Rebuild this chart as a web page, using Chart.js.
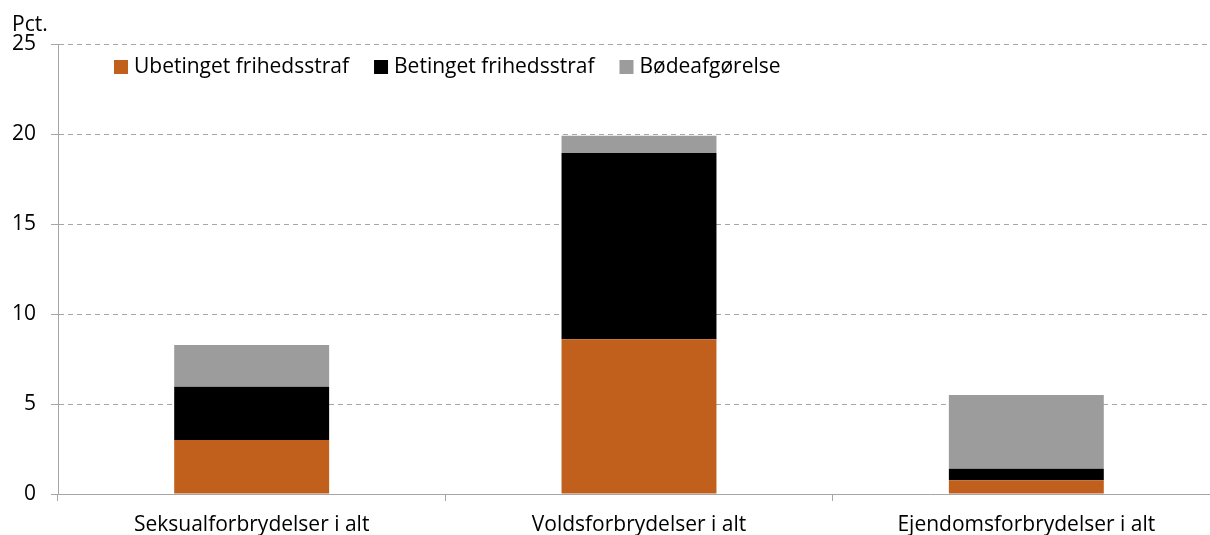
<!DOCTYPE html>
<html>
<head>
<meta charset="utf-8">
<script src="https://cdn.jsdelivr.net/npm/chart.js@4.4.1/dist/chart.umd.min.js"></script>
<style>
  html, body { margin:0; padding:0; background:#fff; overflow:hidden; }
  #wrap { width:1222px; height:535px; }
</style>
</head>
<body>
<div id="wrap"><canvas id="chart" width="1222" height="535"></canvas></div>
<script>
const categories = ["Seksualforbrydelser i alt", "Voldsforbrydelser i alt", "Ejendomsforbrydelser i alt"];
const ubetinget = [3.0, 8.6, 0.77];
const betinget = [2.96, 10.35, 0.63];
const boede = [2.32, 0.95, 4.1];
const seriesNames = ["Ubetinget frihedsstraf", "Betinget frihedsstraf", "Bødeafgørelse"];
const colors = ["#C0601C", "#000000", "#9C9C9C"];
const yTicks = [0, 5, 10, 15, 20, 25];

const FONT = "'Open Sans', Lato, sans-serif";
const FS = 21;
const axisGray = "#A6A6A6";

// legend sits inside the plot, plus the "Pct." label top left
const overlay = {
  id: "overlay",
  afterDraw(chart) {
    const ctx = chart.ctx;
    ctx.save();
    ctx.font = FS + "px " + FONT;
    ctx.fillStyle = "#000";
    ctx.textBaseline = "middle";
    ctx.textAlign = "left";
    ctx.fillText("Pct.", 12, 25);

    let x = 114;
    const y = 67;
    chart.data.datasets.forEach(ds => {
      ctx.fillStyle = ds.backgroundColor;
      ctx.fillRect(x, y - 7, 14, 14);
      ctx.fillStyle = "#000";
      ctx.fillText(ds.label, x + 20, y);
      x += 20 + ctx.measureText(ds.label).width + 25;
    });
    ctx.restore();
  }
};

const datasets = [ubetinget, betinget, boede].map((d, i) => ({
  label: seriesNames[i],
  data: d,
  backgroundColor: colors[i],
  borderWidth: 0,
  categoryPercentage: 1,
  barPercentage: 0.4
}));

new Chart(document.getElementById("chart"), {
  type: "bar",
  data: { labels: categories, datasets },
  plugins: [overlay],
  options: {
    responsive: false,
    animation: false,
    layout: { padding: { top: 44, right: 2, left: 0, bottom: 0 } },
    plugins: { legend: { display: false }, tooltip: { enabled: false } },
    scales: {
      x: {
        stacked: true,
        afterFit: s => { s.height = 41; },
        grid: { drawOnChartArea: false, drawTicks: true, tickLength: 7, color: axisGray, offset: true },
        border: { display: true, color: axisGray, width: 1 },
        ticks: { color: "#000", font: { family: FONT, size: FS }, padding: 11, maxRotation: 0 }
      },
      y: {
        stacked: true,
        min: 0,
        max: 25,
        afterFit: s => { s.width = 58; },
        afterBuildTicks: s => { s.ticks = yTicks.map(v => ({ value: v })); },
        grid: { color: axisGray, tickLength: 7, lineWidth: 1 },
        border: { display: true, color: axisGray, width: 1, dash: [5, 4] },
        ticks: { color: "#000", font: { family: FONT, size: FS }, padding: 15 }
      }
    }
  }
});
</script>
</body>
</html>
